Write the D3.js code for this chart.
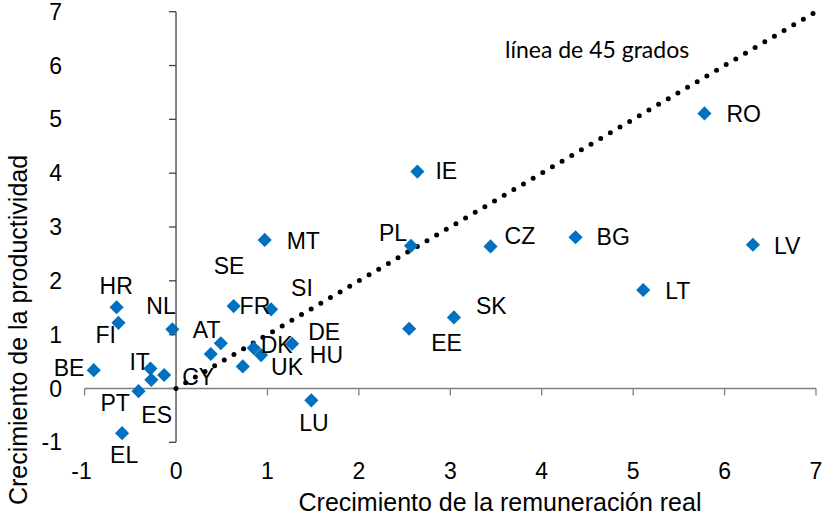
<!DOCTYPE html>
<html>
<head>
<meta charset="utf-8">
<script src="https://cdn.jsdelivr.net/npm/d3@7"></script>
<style>
  body { margin: 0; background: #fff; }
  text { font-family: "Liberation Sans", Arial, sans-serif; fill: #000; }
  .note { font-family: Lato, "Open Sans", sans-serif; }
</style>
</head>
<body>
<div id="chart"></div>
<script>
// country codes and values (real remuneration growth, productivity growth)
var countries = ["RO", "LV", "LT", "BG", "CZ", "PL", "IE", "SK", "EE", "LU",
                 "MT", "SE", "SI", "FR", "AT", "DE", "DK", "UK", "HU",
                 "HR", "FI", "NL", "BE", "IT", "CY", "ES", "PT", "EL"];
var remuneration = [5.78, 6.31, 5.11, 4.37, 3.44, 2.57, 2.64, 3.04, 2.55, 1.48,
                    0.97, 0.73, 1.04, 0.63, 0.49, 1.27, 0.85, 0.93, 0.38,
                    -0.65, -0.63, -0.04, -0.90, -0.28, -0.13, -0.27, -0.41, -0.59];
var productivity = [5.11, 2.67, 1.83, 2.81, 2.64, 2.65, 4.03, 1.32, 1.11, -0.22,
                    2.76, 0.41, 1.47, 1.53, 0.84, 0.83, 0.75, 0.62, 0.64,
                    1.51, 1.22, 1.10, 0.34, 0.37, 0.25, 0.16, -0.05, -0.83];
var xTicks = [-1, 0, 1, 2, 3, 4, 5, 6, 7];
var yTicks = [-1, 0, 1, 2, 3, 4, 5, 6, 7];
var diagonal = [0, 7];

// label placement relative to each point (pixels), as laid out in the original
var labelOffsets = {
  RO: [22, 1], LV: [21, 1], LT: [22, 1], BG: [21, 0], CZ: [14, -10],
  PL: [-32, -13], IE: [18, -1], SK: [22, -11], EE: [22, 14], LU: [-12, 23],
  MT: [22, 1], SE: [-29, -100], SI: [20, -21], FR: [6, 0], AT: [-28, -13],
  DE: [16, -12], DK: [7, -3], UK: [10, 12], HU: [99, 1],
  HR: [-17, -21], FI: [-23, 12], NL: [-26, -23], BE: [-40, -2], IT: [-21, -7],
  CY: [18, 2], ES: [-10, 35], PT: [-38, 12], EL: [-12, 22]
};

var points = countries.map(function (c, i) {
  return { code: c, x: remuneration[i], y: productivity[i] };
});

var width = 822, height = 517;
var svg = d3.select("#chart").append("svg")
  .attr("width", width).attr("height", height);

var x = d3.scaleLinear().domain([-1, 7]).range([84.6, 816]);
var y = d3.scaleLinear().domain([-1, 7]).range([442.3, 11.7]);

var axisColor = "#404040";

// y axis (crosses at x = 0), labels kept at the left edge
svg.append("line")
  .attr("x1", x(0)).attr("x2", x(0))
  .attr("y1", y(-1)).attr("y2", y(7))
  .attr("stroke", axisColor).attr("stroke-width", 1.3);
svg.selectAll(".ytick").data(yTicks).enter().append("line")
  .attr("x1", x(0) - 7).attr("x2", x(0))
  .attr("y1", function (d) { return y(d); })
  .attr("y2", function (d) { return y(d); })
  .attr("stroke", axisColor).attr("stroke-width", 1.3);
svg.selectAll(".ylab").data(yTicks).enter().append("text")
  .attr("x", 62)
  .attr("y", function (d) { return y(d); })
  .attr("dy", "0.35em")
  .attr("text-anchor", "end")
  .style("font-size", "23px")
  .text(function (d) { return d; });

// x axis (crosses at y = 0), labels kept at the bottom
svg.append("line")
  .attr("x1", x(-1)).attr("x2", x(7))
  .attr("y1", y(0)).attr("y2", y(0))
  .attr("stroke", "#7f7f7f").attr("stroke-width", 1.3);
svg.selectAll(".xtick").data(xTicks).enter().append("line")
  .attr("x1", function (d) { return x(d); })
  .attr("x2", function (d) { return x(d); })
  .attr("y1", y(0)).attr("y2", y(0) + 7)
  .attr("stroke", "#7f7f7f").attr("stroke-width", 1.3);
svg.selectAll(".xlab").data(xTicks).enter().append("text")
  .attr("x", function (d) { return x(d) - (d < 0 ? 3 : 0); })
  .attr("y", 471)
  .attr("dy", "0.35em")
  .attr("text-anchor", "middle")
  .style("font-size", "23px")
  .text(function (d) { return d; });

// axis titles
svg.append("text")
  .attr("x", 500).attr("y", 502)
  .attr("dy", "0.35em")
  .attr("text-anchor", "middle")
  .style("font-size", "25px")
  .text("Crecimiento de la remuneración real");
svg.append("text")
  .attr("transform", "translate(18,330) rotate(-90)")
  .attr("dy", "0.35em")
  .attr("text-anchor", "middle")
  .style("font-size", "25px")
  .text("Crecimiento de la productividad");

// 45 degree line
svg.append("line")
  .attr("x1", x(diagonal[0])).attr("y1", y(diagonal[0]))
  .attr("x2", x(diagonal[1])).attr("y2", y(diagonal[1]))
  .attr("stroke", "#000")
  .attr("stroke-width", 5)
  .attr("stroke-linecap", "round")
  .attr("stroke-dasharray", "0 11.2");

svg.append("text")
  .attr("class", "note")
  .attr("x", 505).attr("y", 50)
  .attr("dy", "0.35em")
  .style("font-size", "23px")
  .text("línea de 45 grados");

// points
svg.selectAll(".pt").data(points).enter().append("path")
  .attr("d", d3.symbol().type(d3.symbolSquare).size(100))
  .attr("transform", function (d) {
    return "translate(" + x(d.x) + "," + y(d.y) + ") rotate(45)";
  })
  .attr("fill", "#0070c0");

// labels
svg.selectAll(".lab").data(points).enter().append("text")
  .attr("x", function (d) { return x(d.x) + labelOffsets[d.code][0]; })
  .attr("y", function (d) { return y(d.y) + labelOffsets[d.code][1]; })
  .attr("dy", "0.35em")
  .style("font-size", "23px")
  .text(function (d) { return d.code; });
</script>
</body>
</html>
